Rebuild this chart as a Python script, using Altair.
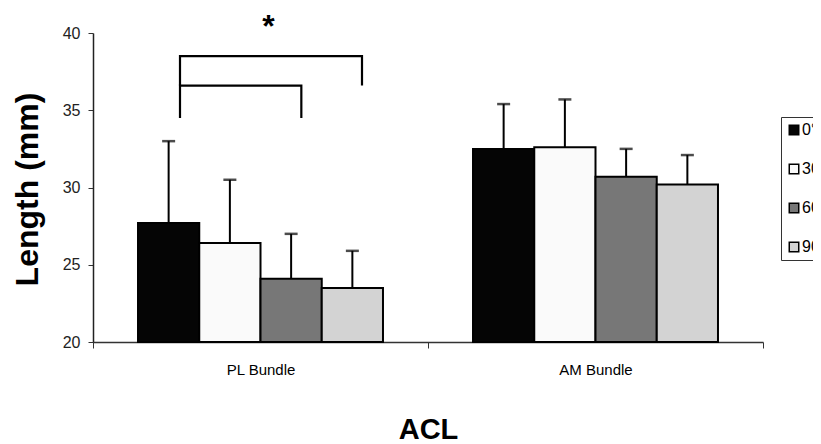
import altair as alt
import pandas as pd

# ---- data ----
bundles = ["PL Bundle", "AM Bundle"]
angles = ["0°", "30°", "60°", "90°"]
pl_mean = [27.7, 26.4, 24.1, 23.5]
pl_upper = [33.0, 30.5, 27.0, 25.9]
am_mean = [32.5, 32.6, 30.7, 30.2]
am_upper = [35.4, 35.7, 32.5, 32.1]
colors = ["#050505", "#fafafa", "#777777", "#d3d3d3"]

# significance brackets (PL bundle)
bracket_ids = ["inner"] * 4 + ["outer"] * 4
bracket_angles = ["0°", "0°", "60°", "60°", "0°", "0°", "90°", "90°"]
bracket_y = [34.5, 36.6, 36.6, 34.5, 36.6, 38.5, 38.5, 36.6]
bracket_step = [0, 1, 2, 3, 0, 1, 2, 3]
star_text = ["*"]
star_y = [40.4]

FONT = "Liberation Sans"

rows = []
for b, means, ups in [(bundles[0], pl_mean, pl_upper), (bundles[1], am_mean, am_upper)]:
    for a, m, u in zip(angles, means, ups):
        rows.append({"Bundle": b, "Angle": a, "Length": m, "Upper": u})
df = pd.DataFrame(rows)

bdf = pd.DataFrame({
    "Bundle": [bundles[0]] * len(bracket_ids),
    "Bracket": bracket_ids,
    "Angle": bracket_angles,
    "Y": bracket_y,
    "Step": bracket_step,
})
sdf = pd.DataFrame({"Bundle": [bundles[0]], "Y": star_y, "T": star_text})

yscale = alt.Scale(domain=[20, 40], nice=False, zero=False)
xscale = alt.Scale(paddingInner=0, paddingOuter=0)
oscale = alt.Scale(paddingInner=0, paddingOuter=0.735)
# brackets sit a little right of the bar centres
bracket_oscale = alt.Scale(domain=angles, range=[87, 269], paddingInner=0, paddingOuter=0)

x_axis = alt.Axis(
    labelAngle=0, labelFontSize=15, labelFont=FONT, labelColor="black",
    labelPadding=14, tickBand="extent", tickSize=6, tickColor="#333",
    domainColor="#333", domainWidth=1.5, grid=False,
    titleFontSize=29, titleFont=FONT, titleFontWeight="bold", titleColor="black",
    titleY=96, titleBaseline="alphabetic",
)
y_axis = alt.Axis(
    values=[20, 25, 30, 35, 40], labelFontSize=16, labelFont=FONT,
    labelColor="#222", labelPadding=8, tickSize=5, tickColor="#333",
    domainColor="#222", domainWidth=1.5, grid=False,
    titleFontSize=32, titleFont=FONT, titleFontWeight="bold", titleColor="black",
    titleAngle=-90, titleX=-56, titleY=156, titleAlign="center",
    titleBaseline="alphabetic",
)

X = alt.X("Bundle:N", sort=bundles, scale=xscale, axis=x_axis, title="ACL")
XO = alt.XOffset("Angle:N", sort=angles, scale=oscale)

bars = alt.Chart(df).mark_bar(stroke="black", strokeWidth=2).encode(
    x=X, xOffset=XO,
    y=alt.Y("Length:Q", scale=yscale, axis=y_axis, title="Length (mm)"),
    y2=alt.datum(20),
    color=alt.Color(
        "Angle:N", sort=angles,
        scale=alt.Scale(domain=angles, range=colors),
        legend=alt.Legend(
            title=None, orient="none", legendX=688, legendY=84,
            strokeColor="#333", fillColor="white", padding=5,
            symbolType="square", symbolSize=90, symbolStrokeColor="black",
            symbolStrokeWidth=1.5, symbolOpacity=1, labelFontSize=16,
            labelFont=FONT, labelColor="black", rowPadding=23, labelOffset=0,
        ),
    ),
)

errs = alt.Chart(df).mark_rule(color="black", strokeWidth=2).encode(
    x=X, xOffset=XO,
    y=alt.Y("Length:Q", scale=yscale, title="Length (mm)"),
    y2="Upper:Q",
)

caps = alt.Chart(df).mark_tick(color="black", thickness=2.5, size=13, orient="horizontal").encode(
    x=X, xOffset=XO,
    y=alt.Y("Upper:Q", scale=yscale, title="Length (mm)"),
)

brackets = alt.Chart(bdf).mark_line(color="black", strokeWidth=2.2).encode(
    x=X,
    xOffset=alt.XOffset("Angle:N", sort=angles, scale=bracket_oscale),
    y=alt.Y("Y:Q", scale=yscale, title="Length (mm)"),
    detail="Bracket:N",
    order="Step:Q",
)

star = alt.Chart(sdf).mark_text(fontSize=32, fontWeight="bold", font=FONT, dx=8, baseline="middle", color="black").encode(
    x=X,
    y=alt.Y("Y:Q", scale=yscale, title="Length (mm)"),
    text="T:N",
)

chart = alt.layer(bars, errs, caps, brackets, star).resolve_scale(
    xOffset="independent"
).properties(
    width=670, height=309,
    padding={"left": 85, "top": 25, "right": 50, "bottom": 102},
    autosize=alt.AutoSizeParams(type="none"),
    background="white",
).configure_view(stroke=None)

chart.save("out.html", embed_options={"renderer": "svg", "actions": False})
